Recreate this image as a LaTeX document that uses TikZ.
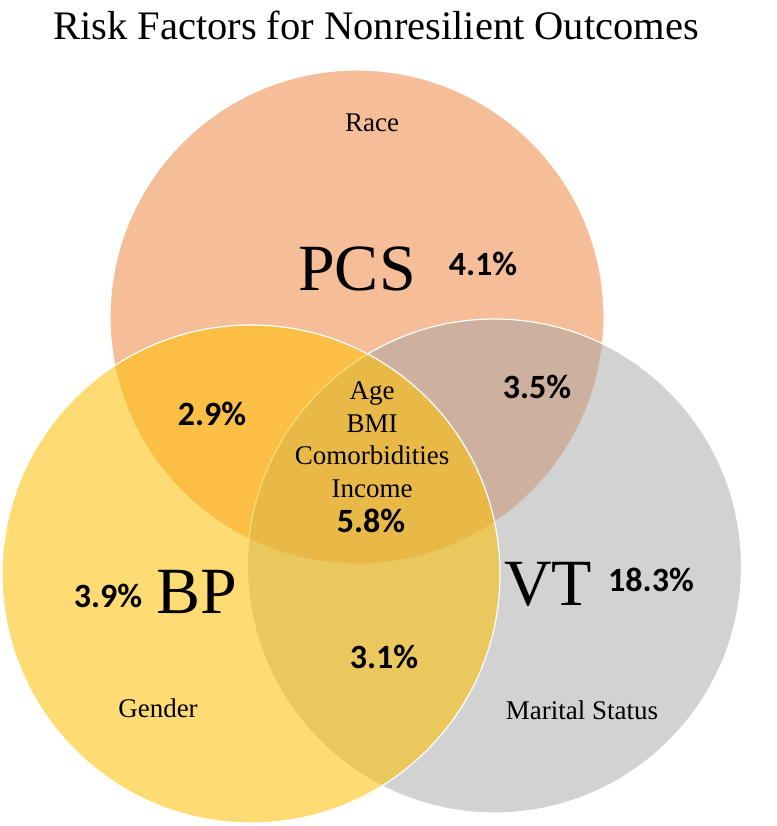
\documentclass[tikz,border=0pt]{standalone}
\usepackage{fontspec}
\setmainfont{Liberation Serif}
\newfontfamily\pctfont{Carlito}
\usepackage{tikz}
\usetikzlibrary{positioning}
\definecolor{PcsOrange}{HTML}{ED7D31}
\definecolor{VtGray}{HTML}{A5A5A5}
\definecolor{BpGold}{HTML}{FFC000}

\begin{document}
\begin{tikzpicture}[
    x=1pt, y=-1pt,
    venn/.style={circle, draw=white, line width=1.2pt, inner sep=0pt, outer sep=0pt},
    bigname/.style={anchor=base, inner sep=0pt, font=\fontsize{66}{70}\selectfont},
    factor/.style={anchor=base, inner sep=0pt, align=center, font=\fontsize{27}{32.5}\selectfont},
    pct/.style={anchor=base, inner sep=0pt, font=\pctfont\bfseries\fontsize{34}{40}\selectfont},
    heading/.style={anchor=base, inner sep=0pt, font=\fontsize{40.5}{46}\selectfont}
  ]
    \useasboundingbox (0,0) rectangle (776,826);

    % circles
    \node[venn, fill=PcsOrange, fill opacity=0.5, minimum size=494pt] (pcs) at (357,317) {};
    \node[venn, fill=VtGray, fill opacity=0.5, minimum size=494pt] (vt) at (494.5,566) {};
    \node[venn, fill=BpGold, fill opacity=0.55, minimum size=498pt] (bp) at (251,574) {};

    \node[heading] (title) at (376,40) {Risk Factors for Nonresilient Outcomes};

    % PCS only
    \node[factor] (race) at (372,132) {Race};
    \node[bigname] (pcsname) at (357,290) {PCS};
    \node[pct] (pcsval) at (483,275) {4.1\%};

    % overlaps
    \node[pct] (pcsbp) at (212,425) {2.9\%};
    \node[pct] (pcsvt) at (537,398) {3.5\%};
    \node[factor] (shared) at (372,497) {Age\\BMI\\Comorbidities\\Income};
    \node[pct] (allval) at (371,532) {5.8\%};
    \node[pct] (bpvt) at (384,668) {3.1\%};

    % BP only
    \node[pct] (bpval) at (108,607) {3.9\%};
    \node[bigname] (bpname) at (197,613) {BP};
    \node[factor] (gender) at (158,717) {Gender};

    % VT only
    \node[bigname] (vtname) at (548,605) {VT};
    \node[pct] (vtval) at (651,591) {18.3\%};
    \node[factor] (marital) at (582,719) {Marital Status};
  \end{tikzpicture}
\end{document}
